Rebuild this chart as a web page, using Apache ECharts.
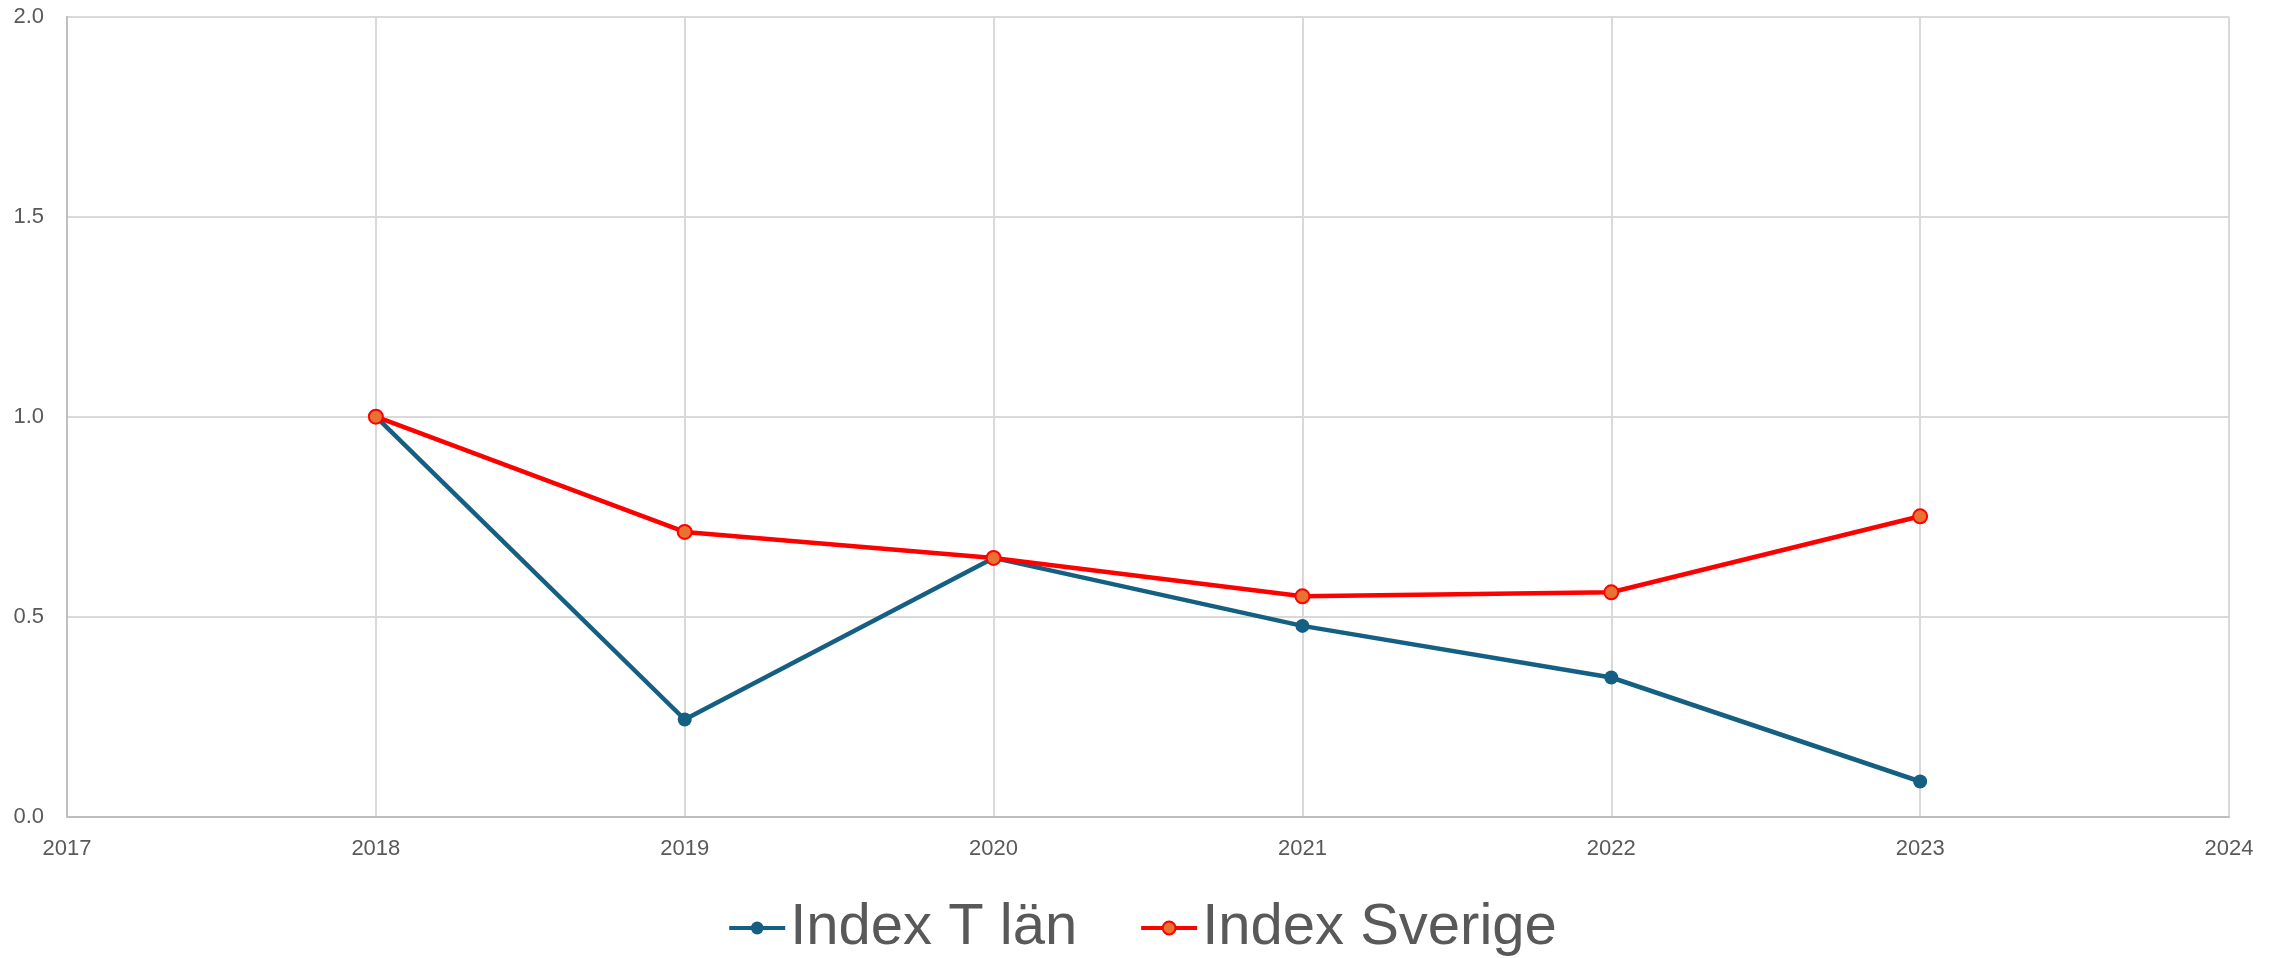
<!DOCTYPE html>
<html>
<head>
<meta charset="utf-8">
<script src="https://cdn.jsdelivr.net/npm/echarts@6/dist/echarts.min.js"></script>
<style>
html,body{margin:0;padding:0;background:#fff;}
#chart{width:2284px;height:958px;}
</style>
</head>
<body>
<div id="chart"></div>
<script>
var years = [2018, 2019, 2020, 2021, 2022, 2023];
var indexTlan = [1.0, 0.243, 0.647, 0.477, 0.348, 0.088];
var indexSverige = [1.0, 0.712, 0.647, 0.551, 0.561, 0.751];
var seriesNames = ['Index T län', 'Index Sverige'];

function pairs(vals) {
	var out = [];
	for (var i = 0; i < years.length; i++) {
		out.push([years[i], vals[i]]);
	}
	return out;
}

var dom = document.getElementById('chart');
var myChart = echarts.init(dom);
var option = {
	animation: false,
	backgroundColor: '#ffffff',
	grid: {
		left: 67,
		right: 55,
		top: 16.7,
		bottom: 141.3
	},
	legend: {
		data: seriesNames,
		left: 'center',
		top: 894,
		itemWidth: 56,
		itemHeight: 16,
		itemGap: 62,
		lineStyle: { width: 4 },
		textStyle: {
			fontFamily: 'Liberation Sans',
			fontSize: 58,
			color: '#595959'
		}
	},
	xAxis: {
		type: 'value',
		min: 2017,
		max: 2024,
		interval: 1,
		axisLine: { show: true, lineStyle: { color: '#bfbfbf', width: 2 } },
		axisTick: { show: false },
		axisLabel: {
			margin: 21,
			fontFamily: 'Liberation Sans',
			fontSize: 22,
			color: '#595959',
			formatter: function (v) { return String(v); }
		},
		splitLine: { show: true, lineStyle: { color: '#d9d9d9', width: 2 } }
	},
	yAxis: {
		type: 'value',
		min: 0,
		max: 2,
		interval: 0.5,
		axisLine: { show: true, lineStyle: { color: '#bfbfbf', width: 2 } },
		axisTick: { show: false },
		axisLabel: {
			margin: 23,
			fontFamily: 'Liberation Sans',
			fontSize: 22,
			color: '#595959',
			formatter: function (v) { return v.toFixed(1); }
		},
		splitLine: { show: true, lineStyle: { color: '#d9d9d9', width: 2 } }
	},
	series: [
		{
			name: seriesNames[0],
			type: 'line',
			data: pairs(indexTlan),
			symbol: 'circle',
			symbolSize: 14,
			lineStyle: { color: '#156082', width: 4.5 },
			itemStyle: { color: '#156082' },
			z: 2
		},
		{
			name: seriesNames[1],
			type: 'line',
			data: pairs(indexSverige),
			symbol: 'circle',
			symbolSize: 14,
			lineStyle: { color: '#ff0000', width: 4.5 },
			itemStyle: { color: '#e97132', borderColor: '#ff0000', borderWidth: 2 },
			z: 3
		}
	]
};
myChart.setOption(option, true);
</script>
</body>
</html>
